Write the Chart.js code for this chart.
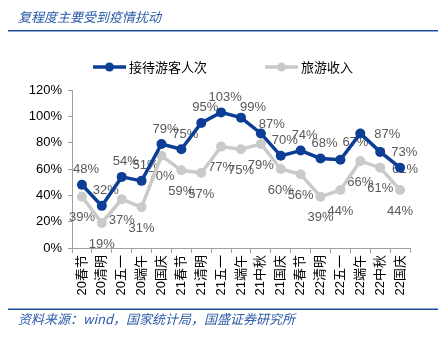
<!DOCTYPE html>
<html>
<head>
<meta charset="utf-8">
<script src="https://cdn.jsdelivr.net/npm/chart.js@4.4.0/dist/chart.umd.min.js"></script>
<style>
  html, body { margin: 0; padding: 0; background: #fff; }
  #wrap { width: 440px; height: 340px; }
</style>
</head>
<body>
<div id="wrap"><canvas id="chart" width="440" height="340"></canvas></div>
<script>
// holidays, 2020-2022
const categories = ['20春节', '20清明', '20五一', '20端午', '20国庆',
  '21春节', '21清明', '21五一', '21端午', '21中秋', '21国庆',
  '22春节', '22清明', '22五一', '22端午', '22中秋', '22国庆'];
// recovery vs. 2019 level, %
const visitorShare = [48, 32, 54, 51, 79, 75, 95, 103, 99, 87, 70, 74, 68, 67, 87, 73, 61];
const revenueShare = [39, 19, 37, 31, 70, 59, 57, 77, 75, 79, 60, 56, 39, 44, 66, 61, 44];
const seriesNames = ['接待游客人次', '旅游收入'];
const yTickValues = [0, 20, 40, 60, 80, 100, 120];

const titleText = '复程度主要受到疫情扰动';
const sourceText = '资料来源：wind，国家统计局，国盛证券研究所';

const BLUE = '#0b3e94';
const GREY = '#cacaca';
const LABEL = '#595959';
const NOTE = '#2a5aa8';
const RULE = '#1f4e9e';
const AXIS = '#a0a0a0';
const FONT = '"Liberation Sans", "Noto Sans CJK SC", sans-serif';
const CJK = '"Noto Sans CJK SC", sans-serif';

// value labels: blue ones sit above the point, grey ones below;
// a few blue labels are nudged aside where the lines get crowded
const labelShift = {
  0: { def: { dx: 4, dy: -15 }, 8: { dx: 12, dy: -10 }, 9: { dx: 11, dy: -9 },
       13: { dx: 15, dy: -17 }, 14: { dx: 27, dy: 1 }, 15: { dx: 24, dy: 1 }, 16: { dx: 5, dy: 2 } },
  1: { def: { dx: 0, dy: 21 } }
};

const valueLabels = {
  id: 'valueLabels',
  beforeDatasetsDraw(chart) {
    const ctx = chart.ctx;
    ctx.save();
    ctx.font = '13px ' + FONT;
    ctx.fillStyle = LABEL;
    ctx.textAlign = 'center';
    ctx.textBaseline = 'middle';
    chart.data.datasets.forEach((ds, di) => {
      const meta = chart.getDatasetMeta(di);
      const shifts = labelShift[di];
      meta.data.forEach((pt, i) => {
        const s = shifts[i] || shifts.def;
        ctx.fillText(ds.data[i] + '%', pt.x + s.dx, pt.y + s.dy);
      });
    });
    ctx.restore();
  }
};

// heading, legend, source note and the two blue rules
const frame = {
  id: 'frame',
  afterDraw(chart) {
    const ctx = chart.ctx;
    ctx.save();
    ctx.textBaseline = 'middle';
    ctx.textAlign = 'left';

    ctx.font = 'italic 13px ' + CJK;
    ctx.fillStyle = NOTE;
    ctx.fillText(titleText, 18, 17);
    ctx.fillStyle = RULE;
    ctx.fillRect(8, 30, 430, 1.5);

    const legendItems = [
      { x: 93, color: BLUE, text: seriesNames[0] },
      { x: 265, color: GREY, text: seriesNames[1] }
    ];
    legendItems.forEach(item => {
      ctx.strokeStyle = item.color;
      ctx.lineWidth = 3.5;
      ctx.beginPath();
      ctx.moveTo(item.x, 67);
      ctx.lineTo(item.x + 33, 67);
      ctx.stroke();
      ctx.fillStyle = item.color;
      ctx.beginPath();
      ctx.arc(item.x + 16.5, 67, 4.5, 0, Math.PI * 2);
      ctx.fill();
      ctx.fillStyle = '#000';
      ctx.font = '13px ' + CJK;
      ctx.fillText(item.text, item.x + 36, 67);
    });

    ctx.fillStyle = RULE;
    ctx.fillRect(8, 308.5, 430, 1.5);
    ctx.font = 'italic 13px ' + CJK;
    ctx.fillStyle = NOTE;
    ctx.fillText(sourceText, 18, 319);
    ctx.restore();
  }
};

new Chart(document.getElementById('chart'), {
  type: 'line',
  data: {
    labels: categories,
    datasets: [
      {
        label: seriesNames[0],
        data: visitorShare,
        borderColor: BLUE,
        backgroundColor: BLUE,
        borderWidth: 3.5,
        pointRadius: 5,
        pointBorderWidth: 0,
        tension: 0,
        order: 0
      },
      {
        label: seriesNames[1],
        data: revenueShare,
        borderColor: GREY,
        backgroundColor: GREY,
        borderWidth: 3.5,
        pointRadius: 5,
        pointBorderWidth: 0,
        tension: 0,
        order: 1
      }
    ]
  },
  options: {
    responsive: false,
    animation: false,
    layout: { padding: { top: 90, right: 30, left: 0, bottom: 0 } },
    plugins: {
      legend: { display: false },
      tooltip: { enabled: false }
    },
    scales: {
      x: {
        offset: true,
        grid: { offset: true, drawOnChartArea: false, tickLength: 5, color: AXIS },
        border: { color: AXIS },
        ticks: {
          autoSkip: false,
          minRotation: 90,
          maxRotation: 90,
          padding: 2,
          color: '#000',
          font: { family: FONT, size: 13 }
        },
        afterFit(scale) { scale.height = 92; }
      },
      y: {
        min: 0,
        max: 120,
        grid: { drawOnChartArea: false, tickLength: 4, color: AXIS },
        border: { color: AXIS },
        ticks: {
          padding: 6,
          color: '#000',
          font: { family: FONT, size: 13 },
          callback: v => v + '%'
        },
        afterBuildTicks(scale) { scale.ticks = yTickValues.map(v => ({ value: v })); },
        afterFit(scale) { scale.width = 72; }
      }
    }
  },
  plugins: [valueLabels, frame]
});
</script>
</body>
</html>
